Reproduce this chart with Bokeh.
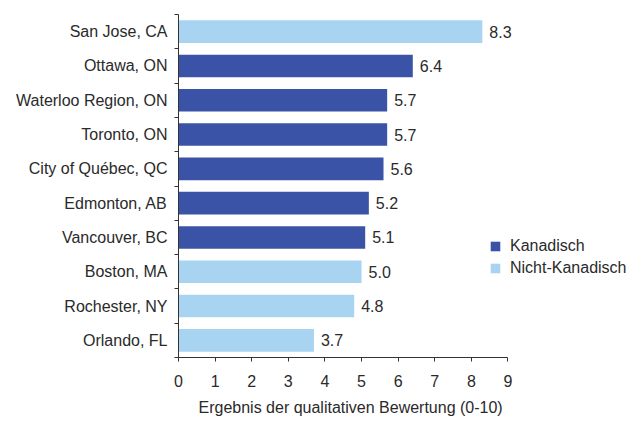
from bokeh.plotting import figure
from bokeh.models import (ColumnDataSource, Range1d, FixedTicker, Legend, LegendItem,
                          CDSView, GroupFilter, LabelSet, Title)
from bokeh.core.properties import value
from bokeh.embed import file_html
from bokeh.resources import INLINE

# Scores of the qualitative assessment (0-10), top to bottom
cities = ["San Jose, CA", "Ottawa, ON", "Waterloo Region, ON", "Toronto, ON",
          "City of Québec, QC", "Edmonton, AB", "Vancouver, BC", "Boston, MA",
          "Rochester, NY", "Orlando, FL"]
scores = [8.3, 6.4, 5.7, 5.7, 5.6, 5.2, 5.1, 5.0, 4.8, 3.7]
groups = ["Nicht-Kanadisch", "Kanadisch", "Kanadisch", "Kanadisch", "Kanadisch",
          "Kanadisch", "Kanadisch", "Nicht-Kanadisch", "Nicht-Kanadisch", "Nicht-Kanadisch"]
x_ticks = [0, 1, 2, 3, 4, 5, 6, 7, 8, 9]
x_title = "Ergebnis der qualitativen Bewertung (0-10)"

DARK = "#3b53a6"
LIGHT = "#a8d4f2"
FONT = "Liberation Sans"
TXT = "#2a2a2a"
FS = "16px"

n = len(cities)
pos = [n - 1 - i for i in range(n)]
src = ColumnDataSource(dict(y=pos, city=cities, score=scores, group=groups,
                            label=[f"{s:.1f}" for s in scores]))

# the frame runs to the right edge so the legend has room; the axis stops at 9
p = figure(width=629, height=423, output_backend="svg", toolbar_location=None,
           x_range=Range1d(0, 12.32), y_range=Range1d(-0.5, n - 0.5),
           min_border_left=178, min_border_right=0, min_border_top=14,
           min_border_bottom=66, outline_line_color=None)
p.xgrid.visible = False
p.ygrid.visible = False

views = {g: CDSView(filter=GroupFilter(column_name="group", group=g))
         for g in ["Kanadisch", "Nicht-Kanadisch"]}
r_ca = p.hbar(y="y", right="score", left=0, height=0.66, source=src,
              view=views["Kanadisch"], fill_color=DARK, line_color=None)
r_nc = p.hbar(y="y", right="score", left=0, height=0.66, source=src,
              view=views["Nicht-Kanadisch"], fill_color=LIGHT, line_color=None)

labels = LabelSet(x="score", y="y", text="label", source=src, x_offset=7,
                  text_baseline="middle", text_font=value(FONT),
                  text_font_size=value(FS), text_color=TXT)
p.add_layout(labels)

# x axis
p.xaxis.bounds = (0, 9)
p.xaxis.ticker = FixedTicker(ticks=x_ticks)
p.xaxis.major_label_text_font = FONT
p.xaxis.major_label_text_font_size = FS
p.xaxis.major_label_text_color = TXT
p.xaxis.major_label_standoff = 13
p.xaxis.major_tick_out = 4
p.xaxis.major_tick_in = 0
p.xaxis.minor_tick_line_color = None
p.xaxis.axis_line_color = "#333333"
p.xaxis.major_tick_line_color = "#333333"

# axis title, centred under the 0-9 axis rather than the whole frame
p.add_layout(Title(text=x_title, align="left", offset=20, standoff=14,
                   text_font=FONT, text_font_size=FS, text_font_style="normal",
                   text_color=TXT), "below")

# y axis: labels at category centres, tick marks between categories
p.yaxis.ticker = FixedTicker(ticks=pos, minor_ticks=[i - 0.5 for i in range(n + 1)])
p.yaxis.major_label_overrides = {y: c for y, c in zip(pos, cities)}
p.yaxis.major_label_text_font = FONT
p.yaxis.major_label_text_font_size = FS
p.yaxis.major_label_text_color = TXT
p.yaxis.major_label_standoff = 7
p.yaxis.major_tick_line_color = None
p.yaxis.major_tick_out = 0
p.yaxis.minor_tick_out = 4
p.yaxis.minor_tick_in = 0
p.yaxis.minor_tick_line_color = "#333333"
p.yaxis.axis_line_color = "#333333"

legend = Legend(items=[LegendItem(label="Kanadisch", renderers=[r_ca]),
                       LegendItem(label="Nicht-Kanadisch", renderers=[r_nc])],
                location=(311, 79), border_line_color=None,
                background_fill_alpha=0, glyph_width=12, glyph_height=12,
                label_text_font=FONT, label_text_font_size=FS,
                label_text_color=TXT, label_standoff=9, label_height=20,
                spacing=2, padding=4, margin=0)
p.add_layout(legend, "center")

open("out.html", "w").write(file_html(p, INLINE))
